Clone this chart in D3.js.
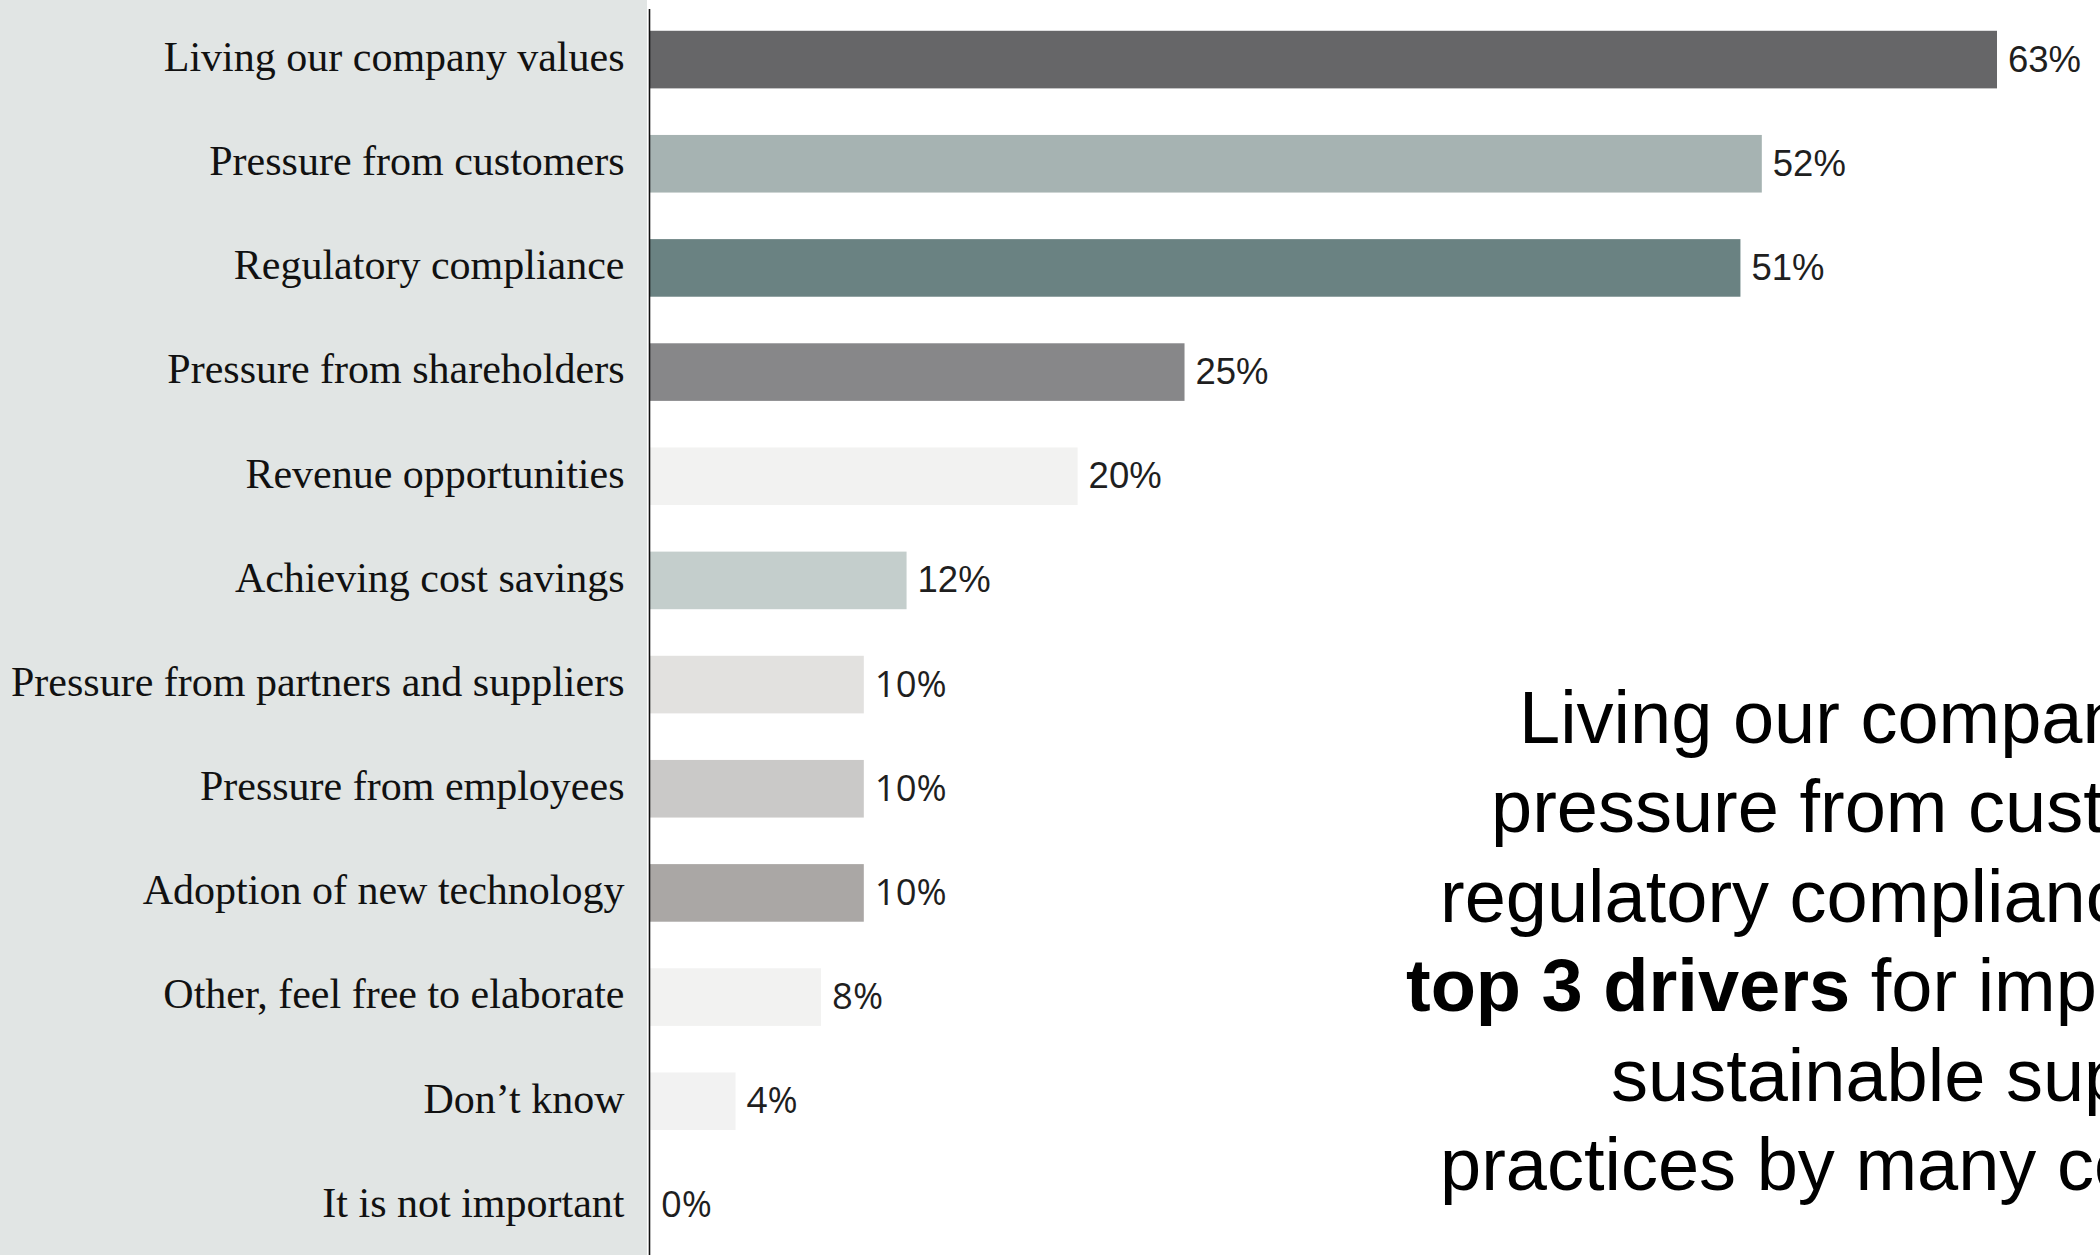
<!DOCTYPE html>
<html>
<head>
<meta charset="utf-8">
<title>Drivers for implementing sustainable supply chain practices</title>
<script src="https://cdn.jsdelivr.net/npm/d3@7"></script>
<style>
  html, body { margin: 0; padding: 0; background: #ffffff; }
  svg { display: block; }
</style>
</head>
<body>
<svg id="chart" width="2100" height="1255"></svg>
<script>
// Survey answers: share of respondents naming each driver
const categories = [
  "Living our company values",
  "Pressure from customers",
  "Regulatory compliance",
  "Pressure from shareholders",
  "Revenue opportunities",
  "Achieving cost savings",
  "Pressure from partners and suppliers",
  "Pressure from employees",
  "Adoption of new technology",
  "Other, feel free to elaborate",
  "Don\u2019t know",
  "It is not important"
];
const shares = [63, 52, 51, 25, 20, 12, 10, 10, 10, 8, 4, 0];

// Headline text, one entry per line; bold runs flagged
const headlineLines = [
  [{ t: "Living our company values,", b: false }],
  [{ t: "pressure from customers and", b: false }],
  [{ t: "regulatory compliance are the", b: false }],
  [{ t: "top 3 drivers", b: true }, { t: " for implementing", b: false }],
  [{ t: "sustainable supply chain", b: false }],
  [{ t: "practices by many companies.", b: false }]
];

// One fill per bar, top to bottom
const barColors = [
  "#666668", "#a6b3b2", "#6a8282", "#878789", "#f2f2f1", "#c4cecc",
  "#e2e1df", "#cac9c8", "#aaa7a5", "#f2f2f1", "#f2f2f2", "#f2f2f2"
];

const W = 2100, H = 1255;
const svg = d3.select("#chart");

const x = d3.scaleLinear().domain([0, 63]).range([650, 1997]);
const y = d3.scaleBand()
  .domain(categories)
  .range([7.5, 1257.5])
  .paddingInner(0.447)
  .paddingOuter(0.2235);

// Label panel behind the category names
svg.append("rect")
  .attr("x", 0).attr("y", 0)
  .attr("width", 647).attr("height", H)
  .attr("fill", "#e1e5e4");

// Bars
svg.append("g")
  .selectAll("rect")
  .data(categories)
  .join("rect")
  .attr("x", x(0))
  .attr("y", d => y(d))
  .attr("width", (d, i) => x(shares[i]) - x(0))
  .attr("height", y.bandwidth())
  .attr("fill", (d, i) => barColors[i]);

// Category axis drawn with d3.axisLeft, ticks hidden
const yAxis = svg.append("g")
  .attr("transform", "translate(649.5,0)")
  .call(d3.axisLeft(y).tickSize(0).tickPadding(25));
yAxis.select(".domain").remove();
yAxis.selectAll("text")
  .attr("fill", "#111111")
  .attr("dy", "0.27em")
  .style("font-family", "'Liberation Serif', 'Times New Roman', serif")
  .style("font-size", "42px");

// Vertical baseline of the bars
svg.append("line")
  .attr("x1", 649.5).attr("x2", 649.5)
  .attr("y1", 9).attr("y2", H)
  .attr("stroke", "#111111")
  .attr("stroke-width", 1.6);

// Value labels; the lower group is set in a rounder sans
const roundSansFrom = 6;
svg.append("g")
  .selectAll("text")
  .data(categories)
  .join("text")
  .attr("x", (d, i) => x(shares[i]) + 11)
  .attr("y", d => y(d) + y.bandwidth() / 2)
  .attr("dy", "0.33em")
  .attr("fill", "#1f1f1f")
  .style("font-family", (d, i) => i >= roundSansFrom
    ? "'Open Sans', 'Liberation Sans', sans-serif"
    : "'Liberation Sans', Arial, sans-serif")
  .style("font-size", "36.5px")
  .text((d, i) => shares[i] + "%");

// Headline block on the right
const lineStarts = [1519, 1491, 1440, 1406, 1611, 1440];
const headline = svg.append("g")
  .style("font-family", "'Liberation Sans', Arial, sans-serif")
  .style("font-size", "74px")
  .attr("fill", "#000000");
headlineLines.forEach((runs, i) => {
  const t = headline.append("text")
    .attr("x", lineStarts[i])
    .attr("y", 742.5 + i * 89.5);
  runs.forEach(r => {
    t.append("tspan")
      .style("font-weight", r.b ? "bold" : "normal")
      .text(r.t);
  });
});
</script>
</body>
</html>
